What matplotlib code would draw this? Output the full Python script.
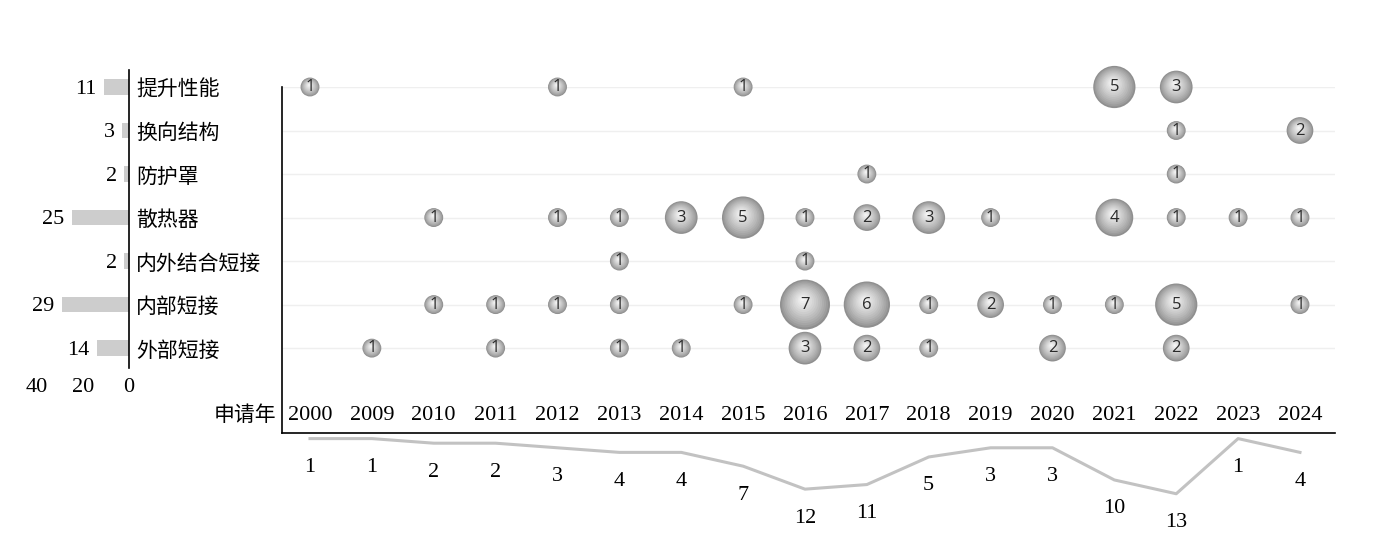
import numpy as np
import matplotlib
matplotlib.use('Agg')
import matplotlib.pyplot as plt
import matplotlib.transforms as mtransforms

plt.rcParams['font.family'] = ['Noto Sans CJK SC', 'DejaVu Sans']

# data
years = ['2000', '2009', '2010', '2011', '2012', '2013', '2014', '2015', '2016',
         '2017', '2018', '2019', '2020', '2021', '2022', '2023', '2024']
categories = ['外部短接', '内部短接', '内外结合短接', '散热器', '防护罩', '换向结构', '提升性能']
cat_totals = [14, 29, 2, 25, 2, 3, 11]
year_totals = [1, 1, 2, 2, 3, 4, 4, 7, 12, 11, 5, 3, 3, 10, 13, 1, 4]

# bubbles per category: {year: count}
ext_short = {'2009': 1, '2011': 1, '2013': 1, '2014': 1, '2016': 3, '2017': 2,
             '2018': 1, '2020': 2, '2022': 2}
int_short = {'2010': 1, '2011': 1, '2012': 1, '2013': 1, '2015': 1, '2016': 7,
             '2017': 6, '2018': 1, '2019': 2, '2020': 1, '2021': 1, '2022': 5, '2024': 1}
mixed_short = {'2013': 1, '2016': 1}
radiator = {'2010': 1, '2012': 1, '2013': 1, '2014': 3, '2015': 5, '2016': 1,
            '2017': 2, '2018': 3, '2019': 1, '2021': 4, '2022': 1, '2023': 1, '2024': 1}
shield = {'2017': 1, '2022': 1}
reversing = {'2022': 1, '2024': 2}
performance = {'2000': 1, '2012': 1, '2015': 1, '2021': 5, '2022': 3}
rows = [ext_short, int_short, mixed_short, radiator, shield, reversing, performance]

serif = ['Liberation Serif', 'DejaVu Serif']

W, H = 1396, 538
fig = plt.figure(figsize=(W / 100, H / 100), dpi=100)

# ---- bubble panel
ax = fig.add_axes([282 / W, 105 / H, 1053 / W, 346 / H])
ax.set_xlim(-0.4525, 16.566)
ax.set_ylim(-0.95, 7)
for s in ['top', 'right']:
    ax.spines[s].set_visible(False)
for s in ['left', 'bottom']:
    ax.spines[s].set_color('black')
    ax.spines[s].set_linewidth(1.2)
ax.set_xticks([])
ax.set_yticks([])

for j in range(len(categories)):
    ax.axhline(j + 1, color='#efefef', lw=1, zorder=0)

for i, y in enumerate(years):
    ax.text(i, -0.49, y, ha='center', va='center_baseline', fontsize=16, family=serif)
ax.text(-0.55, -0.49, '申请年', ha='right', va='center_baseline', fontsize=15)

base = 185.0  # marker area (pt^2) for a count of 1
nlay = 14
edge_c = np.array([0.56, 0.56, 0.56])
mid_c = np.array([0.96, 0.96, 0.96])
for j, row in enumerate(rows):
    for yr, n in row.items():
        xi = years.index(yr)
        r_full = np.sqrt(base * n) / 2  # radius in points
        for k in range(nlay):
            f = 1 - k / nlay
            t = (k / (nlay - 1)) ** 0.8
            col = edge_c * (1 - t) + mid_c * t
            tr = mtransforms.offset_copy(ax.transData, fig=fig, x=-0.10 * r_full * (1 - f),
                                         y=0.22 * r_full * (1 - f), units='points')
            ax.scatter([xi], [j + 1], s=base * n * f * f, color=col, edgecolors='none',
                       transform=tr, zorder=3 + k * 0.01, clip_on=False)
        ax.text(xi, j + 1, str(n), ha='center', va='center', fontsize=12,
                color='#2a2a2a', family=['Open Sans', 'DejaVu Sans'], zorder=5)

# ---- left bar panel
axb = fig.add_axes([37 / W, 170 / H, 92 / W, 298 / H])
axb.barh(range(1, len(categories) + 1), cat_totals, height=0.36, color='#cdcdcd')
axb.set_xlim(40, 0)
axb.set_ylim(0.54, 7.39)
for s in ['top', 'left', 'bottom']:
    axb.spines[s].set_visible(False)
axb.spines['right'].set_color('black')
axb.spines['right'].set_linewidth(1.2)
axb.yaxis.tick_right()
axb.set_yticks(range(1, len(categories) + 1))
axb.set_yticklabels(categories, fontsize=15)
axb.tick_params(axis='y', length=0, pad=5)
axb.set_xticks([40, 20, 0])
axb.set_xticklabels(['40', '20', '0'], fontsize=16, family=serif)
axb.tick_params(axis='x', length=0, pad=7)
for j, v in enumerate(cat_totals):
    axb.text(v + 3.3, j + 1, str(v), ha='right', va='center_baseline', fontsize=16,
             family=serif, clip_on=False)

# ---- bottom trend line
axl = fig.add_axes([282 / W, 13 / H, 1053 / W, 91 / H])
axl.set_xlim(-0.4525, 16.566)
axl.set_ylim(19.8, 0)
axl.axis('off')
x = np.arange(len(years))
axl.plot(x, year_totals, color='#c2c2c2', lw=2.2)
for i, v in enumerate(year_totals):
    axl.annotate(str(v), (i, v), xytext=(0, -19), textcoords='offset points',
                 ha='center', va='center_baseline', fontsize=16, family=serif)

fig.savefig('out.png', dpi=100, facecolor='white')
